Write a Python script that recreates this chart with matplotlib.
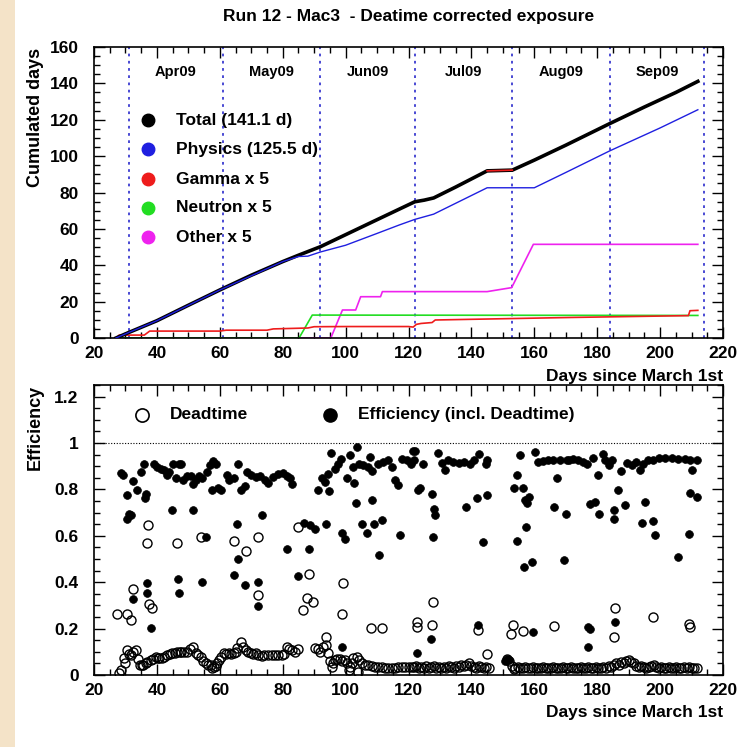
import matplotlib
matplotlib.use("Agg")
import matplotlib.pyplot as plt
from matplotlib.patches import Rectangle
from matplotlib.ticker import MultipleLocator, FixedLocator
import numpy as np

plt.rcParams['font.family'] = ['Liberation Sans', 'DejaVu Sans']
plt.rcParams['font.weight'] = 'bold'

# ---------------- data: cumulated exposure (top) ----------------
total_day = [27, 31, 40, 50, 60, 70, 80, 85, 92, 100, 108, 117, 122, 125, 128, 135, 145, 153, 160, 170, 184, 195, 205, 212]
total_val = [0, 3, 9.5, 18, 26.4, 34.5, 42, 45.5, 50.2, 56.8, 63.4, 70.8, 74.9, 75.8, 77, 83, 91.9, 92.3, 97.8, 106, 117.9, 127, 135, 141.1]
calib_day = [145, 153]
calib_val = [91.9, 92.3]

phys_day = [27, 31, 40, 60, 80, 85, 88, 92, 100, 110, 117, 122, 128, 145, 160, 170, 184, 200, 212]
phys_val = [0, 3, 9.5, 26.4, 42, 44.8, 45.0, 47.3, 51, 57.5, 62.1, 65.2, 68.1, 82.6, 82.6, 91, 102.9, 115.5, 125.5]

gamma_day = [27, 28, 36, 37.7, 60, 62, 75, 77, 88, 90, 100, 120, 121.5, 122.5, 124, 127.5, 128.5, 150, 172, 209, 209.5, 212]
gamma_val = [0, 1.6, 1.6, 3.8, 3.8, 4.3, 4.3, 5.0, 5.5, 6.2, 6.3, 6.3, 6.0, 7.5, 8.0, 8.5, 9.9, 10.6, 11.3, 12.3, 15.0, 15.2]

neutron_day = [27, 85.2, 89.4, 212]
neutron_val = [0, 0, 12.6, 12.4]

other_day = [27, 95.3, 99.0, 103.2, 104.8, 111.1, 111.7, 145, 152.8, 159.7, 212]
other_val = [0, 0, 15.4, 15.4, 22.7, 22.7, 25.5, 25.5, 27.7, 51.5, 51.5]

month_edges = [31, 61, 92, 122, 153, 184, 214]
month_labels = ['Apr09', 'May09', 'Jun09', 'Jul09', 'Aug09', 'Sep09']

legend_top = ['Total (141.1 d)', 'Physics (125.5 d)', 'Gamma x 5', 'Neutron x 5', 'Other x 5']
legend_colors = ['black', '#1f1fe0', '#ee1c1c', '#22dd22', '#ee22ee']

# ---------------- data: efficiency (bottom, filled) ----------------
eff_day = [28.5, 29.3, 30.4, 32.5, 33.6, 34.8, 35.9, 36.4, 36.1, 31.1, 30.6, 31.7,
           39.1, 40.1, 41.2, 42.3, 43.1, 43.8, 45.2, 46.0, 47.0, 47.8, 48.4, 49.5, 50.7, 51.6, 52.3, 53.4, 54.4,
           56.0, 56.9, 57.9, 58.7, 57.6, 59.4, 60.5, 62.2, 62.9, 64.5, 65.8, 66.6, 67.9, 68.8, 70.0, 71.4,
           44.7, 51.6, 65.6, 65.8, 64.5, 67.9, 37.0, 37.0, 32.5, 38.0, 46.7, 47.0, 54.2, 55.6, 72.1, 72.0,
           72.8, 74.4, 75.4, 77.0, 78.6, 80.2, 81.3, 82.3, 83.1,
           91.3, 92.4, 93.5, 94.7, 94.3, 95.4, 96.6, 97.5, 98.5, 100.3, 101.4, 102.7, 102.5, 103.5, 104.3, 105.6,
           107.0, 107.8, 108.5, 110.4, 112.0, 113.6, 114.7, 115.7, 116.6, 117.8, 119.4, 120.8, 121.5,
           73.5, 81.5, 88.5, 84.8, 86.9, 88.7, 90.3, 93.7, 99.0, 99.8, 103.3, 105.3, 106.7, 108.3, 109.1, 111.5,
           110.6, 117.3, 99.0,
           122.1, 121.6, 124.5, 129.5, 130.6, 131.6, 132.7, 134.3, 135.9, 137.5, 139.4, 140.8, 142.5, 144.9, 144.7,
           155.5, 160.2, 161.3, 162.9, 164.5, 166.1, 168.2, 170.3,
           123.1, 123.7, 127.4, 128.1, 128.4, 127.7, 138.3, 141.7, 144.9, 143.6, 127.1, 122.8, 142.2,
           154.6, 153.6, 156.5, 158.4, 157.1, 157.8, 157.4, 154.6, 156.7, 159.4, 159.7, 167.1, 166.3, 170.1, 169.3,
           170.9, 172.4, 174.0, 175.6, 176.7, 178.8, 180.4, 181.7, 182.5, 183.6, 184.6, 187.6, 189.4, 191.0,
           192.3, 193.6, 194.7, 196.3, 197.6, 199.5, 201.6, 203.7, 205.8, 208.0, 209.5, 211.7, 210.3,
           177.7, 179.3, 180.6, 186.5, 185.5, 185.5, 188.7, 195.2, 194.4, 197.6, 198.4, 209.2, 205.6, 209.5, 211.7,
           177.2, 177.7, 177.2, 185.7, 150.6, 151.3, 152.0]
eff_val = [0.871, 0.861, 0.775, 0.835, 0.799, 0.875, 0.911, 0.782, 0.765, 0.696, 0.674, 0.689,
           0.911, 0.897, 0.890, 0.882, 0.861, 0.875, 0.911, 0.847, 0.911, 0.911, 0.839, 0.857, 0.857, 0.825, 0.839, 0.857, 0.851,
           0.875, 0.904, 0.923, 0.911, 0.799, 0.808, 0.796, 0.861, 0.839, 0.851, 0.911, 0.796, 0.814, 0.875, 0.861, 0.854,
           0.710, 0.713, 0.649, 0.499, 0.433, 0.390, 0.397, 0.354, 0.327, 0.201, 0.415, 0.354, 0.400, 0.595, 0.400, 0.297,
           0.857, 0.839, 0.828, 0.854, 0.865, 0.871, 0.857, 0.847, 0.822,
           0.796, 0.851, 0.832, 0.794, 0.865, 0.957, 0.890, 0.911, 0.933, 0.847, 0.947, 0.828, 0.897, 0.983, 0.908, 0.904,
           0.897, 0.940, 0.880, 0.911, 0.918, 0.926, 0.897, 0.839, 0.818, 0.933, 0.926, 0.911, 0.966,
           0.689, 0.541, 0.541, 0.426, 0.656, 0.646, 0.631, 0.653, 0.610, 0.588, 0.742, 0.653, 0.610, 0.753, 0.650, 0.670,
           0.517, 0.603, 0.122,
           0.966, 0.926, 0.911, 0.957, 0.914, 0.882, 0.928, 0.918, 0.914, 0.918, 0.911, 0.926, 0.954, 0.928, 0.911,
           0.947, 0.961, 0.918, 0.923, 0.926, 0.926, 0.926, 0.928,
           0.796, 0.808, 0.782, 0.717, 0.689, 0.593, 0.722, 0.763, 0.778, 0.574, 0.154, 0.096, 0.215,
           0.861, 0.808, 0.808, 0.768, 0.753, 0.742, 0.636, 0.578, 0.466, 0.488, 0.184, 0.847, 0.722, 0.696, 0.495,
           0.928, 0.933, 0.926, 0.918, 0.908, 0.937, 0.861, 0.954, 0.926, 0.904, 0.928, 0.880, 0.914, 0.904,
           0.918, 0.885, 0.911, 0.926, 0.928, 0.937, 0.937, 0.937, 0.933, 0.933, 0.928, 0.926, 0.882,
           0.736, 0.746, 0.693, 0.799, 0.713, 0.674, 0.732, 0.746, 0.656, 0.664, 0.603, 0.607, 0.509, 0.785, 0.768,
           0.208, 0.200, 0.122, 0.230, 0.060, 0.068, 0.065]

# ---------------- data: deadtime (bottom, open) ----------------
dead_day = [32.5, 37.3, 37.0, 27.4, 30.6, 31.7, 37.5, 38.3, 46.5, 54.1, 64.5, 68.2, 72.2,
            72.3, 85.0, 88.5, 86.6, 87.6, 89.5, 99.3, 99.0, 108.1, 111.5, 93.7,
            127.7, 122.6, 122.6, 127.4, 142.2, 144.9, 153.1, 152.5, 156.5, 166.3,
            185.7, 185.5, 197.6, 209.2, 209.5,
            28.0, 28.5, 29.5, 30.0, 30.4, 31.0, 31.7, 32.5, 33.2, 34.0, 34.6, 35.2, 35.7, 36.4, 37.0, 38.0, 38.8,
            39.6, 40.2, 40.7, 41.5, 42.3, 43.3, 44.1, 44.9, 45.7, 46.5, 47.2, 47.8, 48.6, 49.7, 50.5, 51.6, 52.3,
            53.1, 53.9, 54.7, 55.5, 56.3, 57.1, 57.6, 58.2, 58.8, 59.2, 59.8, 60.3, 61.3, 62.1, 62.9, 63.7, 64.5,
            65.0, 65.6, 66.6, 67.3, 68.2, 69.0, 69.8, 70.5, 71.4, 72.3, 73.3, 74.2, 75.4, 76.5, 77.6, 78.6, 79.7,
            80.5, 81.3, 82.1, 82.9, 84.0, 85.0,
            90.3, 91.1, 91.9, 92.8, 93.7, 94.5, 95.0, 95.6, 96.1, 96.6, 97.4, 98.2, 99.0, 99.8, 100.6, 101.0, 101.4,
            102.0, 102.5, 103.5, 104.0, 104.3, 105.1, 106.1, 107.2, 108.3, 109.4, 110.4, 111.5, 112.5, 113.6, 114.6,
            115.7, 116.7, 117.8, 118.9, 120.0, 121.0, 121.9,
            122.5, 123.2, 124.0, 124.8, 125.6, 126.4, 127.2, 128.0, 128.8, 129.6, 130.4, 131.2, 132.0, 132.8, 133.6,
            134.4, 135.2, 136.0, 136.8, 137.6, 138.4, 139.2, 140.0, 140.8, 141.6, 142.4, 143.2, 144.0, 144.8, 145.6,
            151.2, 152.0, 152.8, 153.4, 154.0, 154.8, 155.6, 156.4, 157.2, 158.0, 158.8, 159.6, 160.4, 161.2, 162.0,
            162.8, 163.6, 164.4, 165.2, 166.0, 166.8, 167.6, 168.4, 169.2, 170.0, 170.8, 171.6, 172.4, 173.2, 174.0,
            174.8, 175.6, 176.4, 177.2, 178.0, 178.8, 179.6, 180.4, 181.2, 182.0, 182.8, 183.6, 184.4, 185.2, 186.0,
            186.8, 187.6, 188.4, 189.2, 190.0, 190.8, 191.6, 192.4, 193.2, 194.0, 194.8, 195.6, 196.4, 197.2, 198.0,
            198.8, 199.6, 200.4, 201.2, 202.0, 202.8, 203.6, 204.4, 205.2, 206.0, 206.8, 207.6, 208.4, 209.2, 210.0,
            210.8, 211.6]
dead_val = [0.369, 0.646, 0.567, 0.265, 0.265, 0.237, 0.306, 0.287, 0.567, 0.595, 0.577, 0.535, 0.344,
            0.595, 0.639, 0.435, 0.280, 0.330, 0.316, 0.397, 0.265, 0.201, 0.201, 0.165,
            0.313, 0.230, 0.208, 0.215, 0.194, 0.090, 0.215, 0.175, 0.189, 0.211,
            0.287, 0.165, 0.248, 0.220, 0.208,
            0.010, 0.022, 0.072, 0.050, 0.108, 0.090, 0.086, 0.100, 0.108, 0.070, 0.043, 0.045, 0.043, 0.050, 0.055, 0.065, 0.070,
            0.079, 0.075, 0.072, 0.075, 0.079, 0.086, 0.090, 0.093, 0.095, 0.100, 0.098, 0.100, 0.100, 0.100, 0.110, 0.119, 0.093,
            0.085, 0.079, 0.060, 0.050, 0.045, 0.043, 0.030, 0.036, 0.040, 0.050, 0.065, 0.079, 0.093, 0.090, 0.093, 0.090, 0.093,
            0.100, 0.115, 0.143, 0.120, 0.108, 0.100, 0.096, 0.090, 0.093, 0.086, 0.082, 0.085, 0.086, 0.085, 0.086, 0.085, 0.086,
            0.090, 0.122, 0.110, 0.108, 0.100, 0.110,
            0.115, 0.110, 0.100, 0.120, 0.129, 0.093, 0.060, 0.036, 0.050, 0.065, 0.070, 0.067, 0.060, 0.065, 0.050, 0.020, 0.036,
            0.050, 0.072, 0.079, 0.012, 0.065, 0.050, 0.045, 0.043, 0.040, 0.036, 0.035, 0.036, 0.030, 0.029, 0.030,
            0.029, 0.033, 0.036, 0.035, 0.036, 0.035, 0.036,
            0.040, 0.030, 0.035, 0.030, 0.040, 0.030, 0.035, 0.040, 0.030, 0.035, 0.030, 0.035, 0.030, 0.040, 0.035,
            0.030, 0.040, 0.035, 0.045, 0.040, 0.045, 0.050, 0.040, 0.035, 0.030, 0.040, 0.035, 0.030, 0.035, 0.030,
            0.070, 0.060, 0.040, 0.025, 0.030, 0.035, 0.030, 0.030, 0.035, 0.030, 0.030, 0.035, 0.030, 0.030, 0.030,
            0.035, 0.030, 0.030, 0.030, 0.035, 0.030, 0.030, 0.030, 0.035, 0.030, 0.030, 0.035, 0.030, 0.030, 0.030,
            0.035, 0.030, 0.030, 0.035, 0.030, 0.030, 0.035, 0.030, 0.030, 0.035, 0.030, 0.040, 0.035, 0.045, 0.050,
            0.045, 0.055, 0.050, 0.060, 0.065, 0.055, 0.050, 0.040, 0.035, 0.040, 0.035, 0.030, 0.035, 0.040, 0.045,
            0.035, 0.030, 0.035, 0.030, 0.030, 0.035, 0.030, 0.030, 0.035, 0.030, 0.030, 0.035, 0.030, 0.035, 0.030,
            0.030, 0.030]

# ---------------- figure ----------------
W, H = 746, 747
fig = plt.figure(figsize=(W / 100, H / 100), dpi=100)
fig.patches.append(Rectangle((0, 0), 15 / W, 1, transform=fig.transFigure,
                             facecolor='#F4E3C8', edgecolor='none', zorder=0))

def fx(px):
    return px / W

def fy(py):
    return 1 - py / H

ax1 = fig.add_axes([fx(94), fy(338), (723 - 94) / W, (338 - 47) / H])
ax2 = fig.add_axes([fx(94), fy(675), (723 - 94) / W, (675 - 385) / H])

for ax in (ax1, ax2):
    ax.set_xlim(20, 220)
    ax.xaxis.set_major_locator(MultipleLocator(20))
    ax.xaxis.set_minor_locator(MultipleLocator(5))
    ax.tick_params(which='both', direction='in', top=True, right=True, width=1.0)
    ax.tick_params(which='major', length=8)
    ax.tick_params(which='minor', length=4)
    ax.tick_params(axis='x', which='major', pad=6, labelsize=12.5)
    ax.tick_params(axis='y', which='major', pad=11, labelsize=12.5)
    for s in ax.spines.values():
        s.set_linewidth(1.2)

# ---- top panel ----
ax1.set_ylim(0, 160)
ax1.yaxis.set_major_locator(MultipleLocator(20))
ax1.yaxis.set_minor_locator(MultipleLocator(5))

for d in month_edges:
    ax1.axvline(d, color='#3a3ad0', linestyle=(0, (1.5, 2.5)), linewidth=1.3, zorder=1)
for i, lab in enumerate(month_labels):
    mid = 0.5 * (month_edges[i] + month_edges[i + 1])
    ax1.text(mid, 146, lab, ha='center', va='center', fontsize=10.5, fontweight='bold')

ax1.plot(other_day, other_val, color=legend_colors[4], lw=1.2, zorder=2)
ax1.plot(neutron_day, neutron_val, color=legend_colors[3], lw=1.2, zorder=2)
ax1.plot(gamma_day, gamma_val, color=legend_colors[2], lw=1.2, zorder=3)
ax1.plot(total_day, total_val, color='black', lw=2.6, zorder=4)
ax1.plot(calib_day, calib_val, color=legend_colors[2], lw=1.2, zorder=5)
ax1.plot(phys_day, phys_val, color=legend_colors[1], lw=1.0, zorder=5)

ys = [0.749, 0.648, 0.546, 0.447, 0.347]
for lab, col, yy in zip(legend_top, legend_colors, ys):
    ax1.plot([0.086], [yy], 'o', color=col, ms=9, transform=ax1.transAxes, clip_on=False)
    ax1.text(0.130, yy, lab, transform=ax1.transAxes, ha='left', va='center',
             fontsize=12.5, fontweight='bold')

# ---- bottom panel ----
ax2.set_ylim(0, 1.25)
ax2.yaxis.set_major_locator(FixedLocator([0, 0.2, 0.4, 0.6, 0.8, 1.0, 1.2]))
ax2.yaxis.set_minor_locator(MultipleLocator(0.05))
ax2.set_yticklabels(['0', '0.2', '0.4', '0.6', '0.8', '1', '1.2'])
ax2.axhline(1.0, color='black', linestyle=(0, (1, 1.5)), lw=0.8, zorder=1)

ax2.plot(dead_day, dead_val, 'o', ms=6.5, mfc='none', mec='black', mew=1.0, zorder=2)
ax2.plot(eff_day, eff_val, 'o', ms=5.6, mfc='black', mec='black', mew=0.5, zorder=3)

ax2.plot([0.0763], [0.897], 'o', ms=9.5, mfc='none', mec='black', mew=1.2, transform=ax2.transAxes)
ax2.text(0.121, 0.897, 'Deadtime', transform=ax2.transAxes, ha='left', va='center',
         fontsize=12.5, fontweight='bold')
ax2.plot([0.375], [0.897], 'o', ms=9.5, mfc='black', mec='black', transform=ax2.transAxes)
ax2.text(0.420, 0.897, 'Efficiency (incl. Deadtime)', transform=ax2.transAxes, ha='left',
         va='center', fontsize=12.5, fontweight='bold')

for lab in ax1.get_xticklabels() + ax1.get_yticklabels() + ax2.get_xticklabels() + ax2.get_yticklabels():
    lab.set_fontweight('bold')

# ---- texts ----
fig.text(fx(409), fy(17), 'Run 12 - Mac3  - Deatime corrected exposure', ha='center', va='center',
         fontsize=12.5, fontweight='bold')
fig.text(fx(723), fy(376), 'Days since March 1st', ha='right', va='center', fontsize=12.5, fontweight='bold')
fig.text(fx(723), fy(713), 'Days since March 1st', ha='right', va='center', fontsize=12.5, fontweight='bold')
fig.text(fx(35), fy(48), 'Cumulated days', rotation=90, ha='center', va='top', fontsize=13, fontweight='bold')
fig.text(fx(35), fy(385), 'Efficiency', rotation=90, ha='center', va='top', fontsize=13, fontweight='bold')

fig.savefig('out.png', dpi=100)
